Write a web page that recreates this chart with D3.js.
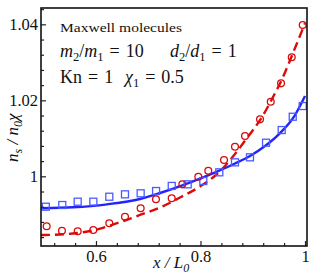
<!DOCTYPE html>
<html>
<head>
<meta charset="utf-8">
<script src="https://cdn.jsdelivr.net/npm/d3@7"></script>
<style>
	body { margin: 0; background: #fff; }
	svg text { font-family: "Liberation Serif", "Times New Roman", serif; }
</style>
</head>
<body>
<div id="chart-area"></div>
<script>

// chart data
let squareX = [0.504, 0.5355, 0.565, 0.595, 0.6255, 0.6555, 0.6855, 0.715, 0.745, 0.7755, 0.8054, 0.836, 0.866, 0.8947, 0.9254, 0.9554, 0.9765, 0.9956];
let squareY = [0.9920, 0.99245, 0.99332, 0.99332, 0.99463, 0.99526, 0.99553, 0.99613, 0.99747, 0.99789, 0.99876, 1.00105, 1.00368, 1.00500, 1.00884, 1.01218, 1.01568, 1.01850];

let circleX = [0.5056, 0.5349, 0.565, 0.5948, 0.6255, 0.6555, 0.6855, 0.7148, 0.7449, 0.7652, 0.7958, 0.8149, 0.845, 0.866, 0.8852, 0.9139, 0.9344, 0.9541, 0.9746, 0.9956];
let circleY = [0.98684, 0.98566, 0.98555, 0.98587, 0.98763, 0.98937, 0.99158, 0.99397, 0.99421, 0.99789, 0.99989, 1.00147, 1.00429, 1.00779, 1.01061, 1.01500, 1.01963, 1.02447, 1.03132, 1.03982];

let blueLineX = [0.4947, 0.556, 0.6211, 0.6842, 0.7225, 0.7665, 0.799, 0.8316, 0.866, 0.8947, 0.9234, 0.9522, 0.9809, 1.0];
let blueLineY = [0.99158, 0.99184, 0.99263, 0.99403, 0.99561, 0.99771, 0.99942, 1.00126, 1.00337, 1.00534, 1.00797, 1.01139, 1.01613, 1.02113];

let redLineX = [0.4947, 0.5311, 0.5636, 0.5943, 0.6268, 0.6555, 0.6842, 0.7225, 0.7608, 0.799, 0.8316, 0.845, 0.866, 0.889, 0.9177, 0.9388, 0.9579, 0.977, 1.0];
let redLineY = [0.98455, 0.98468, 0.98508, 0.98574, 0.98705, 0.98837, 0.98982, 0.99179, 0.99442, 0.99732, 1.00061, 1.00245, 1.00587, 1.01008, 1.01561, 1.02087, 1.02613, 1.03245, 1.0403];

let xTicks = [0.6, 0.8, 1];
let xMinorTicks = [0.52, 0.56, 0.64, 0.68, 0.72, 0.76, 0.84, 0.88, 0.92, 0.96];
let yTicks = [1, 1.02, 1.04];
let yMinorTicks = [0.984, 0.988, 0.992, 0.996, 1.004, 1.008, 1.012, 1.016, 1.024, 1.028, 1.032, 1.036, 1.044];

// SVG size
let width = 315,
	height = 280;
let margin = {left: 41, top: 8, right: 8, bottom: 34};

let blue = "#2323ff",
	red = "#dc0a0a";

let svg = d3.select("#chart-area").append("svg").attr("width", width).attr("height", height);

let x = d3.scaleLinear().domain([0.4948, 1.0038]).range([margin.left, width - margin.right]);
let y = d3.scaleLinear().domain([0.98166, 1.0443]).range([height - margin.bottom, margin.top]);

let zip = (a, b) => a.map((v, i) => [v, b[i]]);

svg.append("clipPath").attr("id", "plot-clip")
	.append("rect")
	.attr("x", margin.left).attr("y", margin.top)
	.attr("width", width - margin.left - margin.right)
	.attr("height", height - margin.top - margin.bottom);

let line = d3.line().x(d => x(d[0])).y(d => y(d[1])).curve(d3.curveMonotoneX);

let plot = svg.append("g").attr("clip-path", "url(#plot-clip)");

// lines
plot.append("path")
	.attr("d", line(zip(blueLineX, blueLineY)))
	.attr("fill", "none")
	.attr("stroke", blue)
	.attr("stroke-width", 2.4);

plot.append("path")
	.attr("d", line(zip(redLineX, redLineY)))
	.attr("fill", "none")
	.attr("stroke", red)
	.attr("stroke-width", 2.4)
	.attr("stroke-dasharray", "9,5");

// markers
let sq = 7;
plot.selectAll(".sq")
	.data(zip(squareX, squareY))
	.enter()
	.append("rect")
	.attr("class", "sq")
	.attr("x", d => x(d[0]) - sq / 2)
	.attr("y", d => y(d[1]) - sq / 2)
	.attr("width", sq)
	.attr("height", sq)
	.attr("fill", "none")
	.attr("stroke", "#4a5cff")
	.attr("stroke-width", 1.3);

plot.selectAll(".ci")
	.data(zip(circleX, circleY))
	.enter()
	.append("circle")
	.attr("class", "ci")
	.attr("cx", d => x(d[0]))
	.attr("cy", d => y(d[1]))
	.attr("r", 3.4)
	.attr("fill", "none")
	.attr("stroke", red)
	.attr("stroke-width", 1.3);

// axes, ticks inward
let xAxis = d3.axisBottom(x).tickValues(xTicks).tickSize(-5).tickPadding(4).tickFormat(d3.format("~g"));
let xMinor = d3.axisBottom(x).tickValues(xMinorTicks).tickSize(-3).tickFormat("");
let yAxis = d3.axisLeft(y).tickValues(yTicks).tickSize(-5).tickPadding(3).tickFormat(d3.format("~g"));
let yMinor = d3.axisLeft(y).tickValues(yMinorTicks).tickSize(-3).tickFormat("");

svg.append("g").attr("transform", "translate(0," + (height - margin.bottom) + ")").call(xAxis);
svg.append("g").attr("transform", "translate(0," + (height - margin.bottom) + ")").call(xMinor);
svg.append("g").attr("transform", "translate(" + margin.left + ",0)").call(yAxis);
svg.append("g").attr("transform", "translate(" + margin.left + ",0)").call(yMinor);

svg.selectAll(".domain").remove();
svg.selectAll(".tick line").attr("stroke", "#222").attr("stroke-width", 1.2);
svg.selectAll(".tick text").attr("font-family", "Liberation Serif, serif").attr("font-size", 16.5).attr("fill", "#111");

// frame
svg.append("rect")
	.attr("x", margin.left).attr("y", margin.top)
	.attr("width", width - margin.left - margin.right)
	.attr("height", height - margin.top - margin.bottom)
	.attr("fill", "none")
	.attr("stroke", "#111")
	.attr("stroke-width", 1.6);

// axis labels
let xl = svg.append("text")
	.attr("x", 153).attr("y", 268)
	.attr("font-size", 17).attr("font-style", "italic").attr("fill", "#111");
xl.append("tspan").text("x / L");
xl.append("tspan").attr("font-size", 12).attr("dy", 4).text("0");

let yl = svg.append("text")
	.attr("transform", "translate(18,162) rotate(-90)")
	.attr("font-size", 17).attr("font-style", "italic").attr("fill", "#111");
yl.append("tspan").text("n");
yl.append("tspan").attr("font-size", 12).attr("dy", 4).text("s");
yl.append("tspan").attr("dy", -4).text(" / n");
yl.append("tspan").attr("font-size", 12).attr("dy", 4).text("0");
yl.append("tspan").attr("dy", -4).text("χ");

// annotations
svg.append("text")
	.attr("x", 60).attr("y", 32)
	.attr("font-size", 13.5)
	.attr("textLength", 122).attr("lengthAdjust", "spacingAndGlyphs")
	.attr("fill", "#111")
	.text("Maxwell molecules");

let eq = "\u2004=\u2004";

function mathText(xp, yp, parts) {
	let t = svg.append("text").attr("x", xp).attr("y", yp).attr("font-size", 18).attr("fill", "#111");
	parts.forEach(p => {
		let s = t.append("tspan").text(p.t);
		if (p.i) s.attr("font-style", "italic");
		if (p.sub) s.attr("font-size", 12.5).attr("dy", 3.5);
		if (p.up) s.attr("dy", -3.5);
	});
	return t;
}

mathText(60, 57, [{t: "m", i: 1}, {t: "2", sub: 1}, {t: "/", up: 1}, {t: "m", i: 1}, {t: "1", sub: 1}, {t: eq + "10", up: 1}]);
mathText(170, 57, [{t: "d", i: 1}, {t: "2", sub: 1}, {t: "/", up: 1}, {t: "d", i: 1}, {t: "1", sub: 1}, {t: eq + "1", up: 1}]);
mathText(60, 83, [{t: "Kn" + eq + "1"}]);
mathText(125, 83, [{t: "χ", i: 1}, {t: "1", sub: 1}, {t: eq + "0.5", up: 1}]);

</script>
</body>
</html>
